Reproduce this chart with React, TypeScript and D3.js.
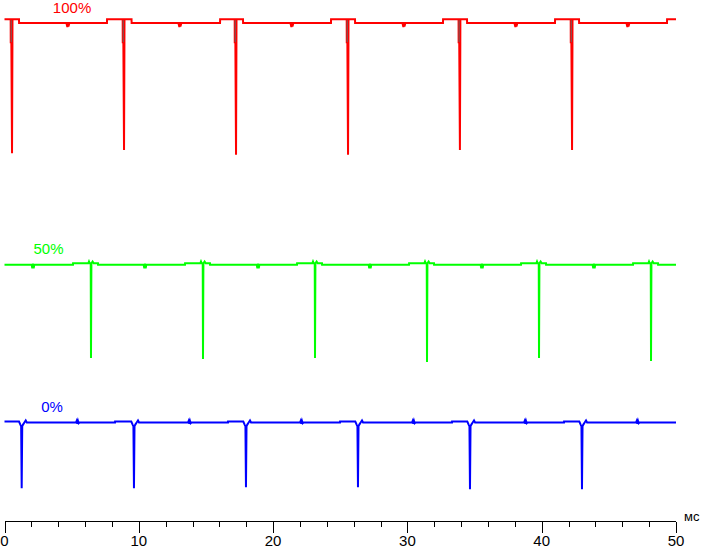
import React from 'react';
import * as d3 from 'd3';

const W = 703;
const H = 549;

// axis
const timeDomain: [number, number] = [0, 50];
const majorTicks = [0, 10, 20, 30, 40, 50];
const minorTicks = [2, 4, 6, 8, 12, 14, 16, 18, 22, 24, 26, 28, 32, 34, 36, 38, 42, 44, 46, 48];
const unitLabel = 'мс';

// signal units (0..100 of plot height)
const signalDomain: [number, number] = [0, 100];

// 100% trace (red)
const redLabel = '100%';
const redSpikes = [0.56, 8.9, 17.24, 25.58, 33.91, 42.26];
const redSpikeBottoms = [70.6, 71.2, 70.3, 70.3, 71.2, 71.2];
const redStepDown = [1.08, 9.46, 17.76, 26.1, 34.44, 42.78];
const redStepUp = [7.63, 16.05, 24.31, 32.65, 40.99, 49.33];
const redDips = [4.73, 13.07, 21.41, 29.75, 38.09, 46.43];
const redHigh = 96.3;
const redLow = 95.6;
const redDipLevel = 94.8;
const redShoulder = 91.9;

// 50% trace (green)
const greenLabel = '50%';
const greenSpikes = [6.44, 14.78, 23.12, 31.46, 39.8, 48.14];
const greenSpikeBottoms = [31.3, 31.1, 31.3, 30.5, 31.3, 30.7];
const greenRaise = [5.1, 13.44, 21.78, 30.12, 38.46, 46.8];
const greenSettle = [6.96, 15.3, 23.64, 31.98, 40.32, 48.66];
const greenDips = [2.12, 10.46, 18.88, 27.21, 35.55, 43.89];
const greenLevel = 49.2;
const greenRaised = 49.45;
const greenDipLevel = 48.5;
const greenBump = 49.8;

// 0% trace (blue)
const blueLabel = '0%';
const blueSpikes = [1.28, 9.64, 17.98, 26.32, 34.66, 43.0];
const blueSpikeBottoms = [6.3, 6.3, 6.5, 6.5, 6.1, 6.1];
const blueRaise = [0, 8.23, 16.64, 24.98, 33.32, 41.66];
const blueLumps = [5.47, 13.81, 22.15, 30.49, 38.83, 47.17];
const blueLevel = 18.9;
const blueRaised = 19.1;
const blueNotch = 18.2;
const blueBump = 19.3;

type P = [number, number];

function buildRed(): P[] {
  const pts: P[] = [[0, redHigh]];
  redSpikes.forEach((s, i) => {
    pts.push([s - 0.1, redHigh], [s - 0.095, redShoulder], [s - 0.05, redShoulder], [s, redSpikeBottoms[i]],
      [s + 0.03, redShoulder], [s + 0.035, redHigh]);
    pts.push([redStepDown[i], redHigh], [redStepDown[i] + 0.005, redLow]);
    const d = redDips[i];
    pts.push([d - 0.12, redLow], [d - 0.05, redDipLevel], [d - 0.02, redLow + 0.15], [d + 0.03, redDipLevel + 0.1], [d + 0.1, redLow]);
    pts.push([redStepUp[i], redLow], [redStepUp[i] + 0.005, redHigh]);
  });
  pts.push([50, redHigh]);
  return pts;
}

function buildGreen(): P[] {
  const pts: P[] = [[0, greenLevel]];
  greenSpikes.forEach((s, i) => {
    const d = greenDips[i];
    pts.push([d - 0.1, greenLevel], [d - 0.05, greenDipLevel], [d, greenLevel + 0.2], [d + 0.05, greenDipLevel], [d + 0.1, greenLevel]);
    pts.push([greenRaise[i], greenLevel], [greenRaise[i] + 0.005, greenRaised]);
    pts.push([s - 0.2, greenRaised], [s - 0.15, greenBump], [s - 0.1, greenRaised], [s - 0.02, greenRaised], [s, greenSpikeBottoms[i]],
      [s + 0.03, greenRaised], [s + 0.12, greenBump], [s + 0.2, greenRaised]);
    pts.push([greenSettle[i], greenRaised], [greenSettle[i] + 0.005, greenLevel]);
  });
  pts.push([50, greenLevel]);
  return pts;
}

function buildBlue(): P[] {
  const pts: P[] = [];
  blueSpikes.forEach((s, i) => {
    if (i === 0) pts.push([blueRaise[i], blueRaised]);
    else pts.push([blueRaise[i], blueLevel], [blueRaise[i] + 0.005, blueRaised]);
    pts.push([s - 0.2, blueRaised], [s - 0.1, 18.5], [s - 0.04, blueNotch], [s, blueSpikeBottoms[i]], [s + 0.04, blueNotch],
      [s + 0.1, 18.5], [s + 0.2, blueLevel], [s + 0.3, blueBump], [s + 0.38, blueLevel]);
    const l = blueLumps[i];
    pts.push([l - 0.15, blueLevel], [l - 0.1, blueLevel + 0.3], [l - 0.05, blueLevel - 0.25], [l, blueLevel + 0.3], [l + 0.05, blueLevel - 0.15], [l + 0.12, blueLevel]);
  });
  pts.push([50, blueLevel]);
  return pts;
}

export default function App() {
  const x = d3.scaleLinear().domain(timeDomain).range([4.5, 676]);
  const y = d3.scaleLinear().domain(signalDomain).range([521, 0]);
  const line = d3.line<P>().x((d) => x(d[0])).y((d) => y(d[1]));
  const axisY = 521.5;
  const font = "'Liberation Sans', Arial, sans-serif";

  const traces = [
    { pts: buildRed(), color: '#ff0000', label: redLabel, lx: 5.03, ly: redHigh + 1.2 },
    { pts: buildGreen(), color: '#00ff00', label: greenLabel, lx: 3.28, ly: greenLevel + 2.0 },
    { pts: buildBlue(), color: '#0000ff', label: blueLabel, lx: 3.54, ly: blueLevel + 2.0 },
  ];

  return (
    <svg width={W} height={H} style={{ position: 'absolute', left: 0, top: 0, background: '#fff' }}>
      <rect x={0} y={0} width={W} height={H} fill="#fff" />
      {traces.map((t, i) => (
        <g key={i}>
          <path d={line(t.pts) || ''} fill="none" stroke={t.color} strokeWidth={2} strokeLinejoin="miter" />
          <text x={x(t.lx)} y={y(t.ly)} fill={t.color} fontFamily={font} fontSize={15} textAnchor="middle">
            {t.label}
          </text>
        </g>
      ))}
      {redSpikes.map((s, i) => (
        <line key={i} x1={x(s - 0.06)} x2={x(s - 0.06)} y1={y(redHigh) + 1} y2={y(redShoulder)} stroke="#666" strokeWidth={1} />
      ))}
      <g shapeRendering="crispEdges">
        <line x1={x(0)} x2={x(50)} y1={axisY} y2={axisY} stroke="#000" strokeWidth={1} />
        {minorTicks.map((t) => (
          <line key={'m' + t} x1={Math.round(x(t)) + 0.5} x2={Math.round(x(t)) + 0.5} y1={axisY} y2={axisY + 5} stroke="#000" />
        ))}
        {majorTicks.map((t) => (
          <line key={'M' + t} x1={Math.round(x(t)) + 0.5} x2={Math.round(x(t)) + 0.5} y1={axisY} y2={axisY + 11} stroke="#000" />
        ))}
      </g>
      {majorTicks.map((t) => (
        <text key={'l' + t} x={x(t)} y={546} fontFamily={font} fontSize={15} textAnchor="middle" fill="#000">
          {t}
        </text>
      ))}
      <text x={684} y={521} fontFamily={font} fontSize={13} fill="#000">
        {unitLabel}
      </text>
    </svg>
  );
}
